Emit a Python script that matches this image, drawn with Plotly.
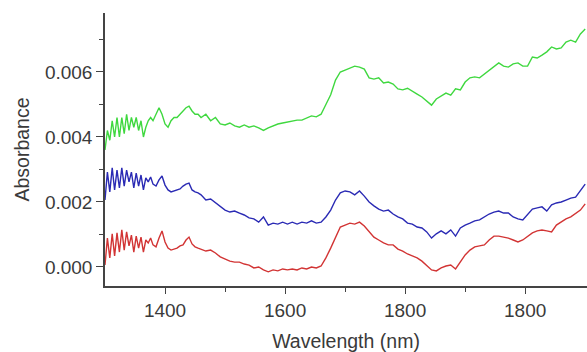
import plotly.graph_objects as go
import numpy as np

# Wavelength (nm)
wavelength = [
    1300, 1304, 1308, 1312, 1316, 1320, 1324, 1328, 1332, 1336, 1340, 1344, 1348, 1352, 1356,
    1360, 1364, 1368, 1372, 1376, 1380, 1385, 1390, 1395, 1400, 1405, 1410, 1415, 1420, 1425,
    1430, 1435, 1440, 1445, 1450, 1455, 1460, 1468, 1476, 1484, 1492, 1500, 1508, 1516, 1524,
    1532, 1540, 1548, 1556, 1564, 1572, 1580, 1588, 1596, 1604, 1612, 1620, 1628, 1636, 1644,
    1652, 1660, 1668, 1676, 1684, 1692, 1700, 1708, 1716, 1724, 1732, 1740, 1748, 1756, 1764,
    1772, 1780, 1788, 1796, 1804, 1812, 1820, 1828, 1836, 1844, 1852, 1860, 1868, 1876, 1884,
    1892, 1900, 1908, 1916, 1924, 1932, 1940, 1948, 1956, 1964, 1972, 1980, 1988, 1996, 2004,
    2012, 2020, 2028, 2036, 2044, 2052, 2060, 2068, 2076, 2084, 2092, 2100,
]

# Absorbance values in milli-absorbance units (x 1e-3)
green_mabs = [
    3.6, 4.2, 3.9, 4.5, 4.0, 4.6, 4.0, 4.6, 4.1, 4.7, 4.2, 4.6, 4.3, 4.6, 4.2,
    4.5, 4.0, 4.3, 4.5, 4.6, 4.5, 4.7, 4.9, 4.7, 4.4, 4.3, 4.5, 4.6, 4.6, 4.7,
    4.8, 4.9, 4.95, 4.8, 4.7, 4.7, 4.6, 4.7, 4.5, 4.6, 4.4, 4.37, 4.43, 4.34, 4.3,
    4.37, 4.3, 4.34, 4.28, 4.2, 4.28, 4.34, 4.4, 4.43, 4.46, 4.49, 4.52, 4.52, 4.58, 4.65,
    4.62, 4.7, 5.0, 5.3, 5.75, 6.0, 6.06, 6.12, 6.18, 6.15, 6.09, 5.82, 5.78, 5.82, 5.66,
    5.69, 5.63, 5.48, 5.45, 5.5, 5.42, 5.32, 5.23, 5.1, 4.98, 5.17, 5.26, 5.35, 5.29, 5.48,
    5.45, 5.69, 5.82, 5.85, 5.82, 5.94, 6.06, 6.18, 6.28, 6.18, 6.15, 6.25, 6.28, 6.18, 6.18,
    6.46, 6.43, 6.52, 6.62, 6.77, 6.71, 6.74, 6.92, 6.98, 6.92, 7.17, 7.32,
]

blue_mabs = [
    2.06, 2.92, 2.31, 3.05, 2.37, 2.98, 2.43, 3.05, 2.49, 2.98, 2.62, 2.92, 2.43, 2.89, 2.49,
    2.83, 2.37, 2.74, 2.62, 2.77, 2.55, 2.49, 2.68, 2.8, 2.52, 2.37, 2.31, 2.34, 2.37, 2.4,
    2.49, 2.55, 2.58, 2.37, 2.31, 2.28, 2.22, 2.06, 2.09, 1.97, 1.85, 1.75, 1.69, 1.72, 1.66,
    1.6, 1.51, 1.48, 1.38, 1.54, 1.29, 1.35, 1.32, 1.38, 1.32, 1.38, 1.32, 1.38, 1.35, 1.42,
    1.35, 1.38, 1.54, 1.75, 2.06, 2.28, 2.34, 2.31, 2.22, 2.34, 2.18, 2.0, 1.88, 1.78, 1.72,
    1.75, 1.63, 1.54, 1.48, 1.35, 1.32, 1.23, 1.2, 1.08, 0.89, 1.02, 1.11, 1.02, 1.14, 0.95,
    1.2, 1.29, 1.35, 1.42, 1.45, 1.54, 1.63, 1.69, 1.72, 1.66, 1.66, 1.54, 1.48, 1.45, 1.63,
    1.78, 1.82, 1.85, 1.72, 1.91, 1.97, 2.0, 2.06, 2.12, 2.15, 2.37, 2.55,
]

red_mabs = [
    0.06, 0.89, 0.28, 1.02, 0.34, 1.05, 0.46, 1.14, 0.52, 1.08, 0.65, 0.98, 0.46, 0.95, 0.58,
    0.92, 0.46, 0.83, 0.74, 0.89, 0.68, 0.62, 0.89, 1.11, 0.77, 0.58, 0.52, 0.55, 0.58, 0.65,
    0.68, 0.83, 0.92, 0.71, 0.62, 0.58, 0.55, 0.49, 0.52, 0.43, 0.31, 0.25, 0.18, 0.15, 0.15,
    0.09, 0.06, -0.03, 0.0, -0.09, -0.15, -0.09, -0.12, -0.06, -0.09, -0.06, -0.09, -0.03, -0.06, 0.0,
    -0.03, 0.03, 0.28, 0.58, 0.92, 1.23, 1.29, 1.35, 1.32, 1.38, 1.26, 1.08, 0.92, 0.83, 0.74,
    0.68, 0.68, 0.55, 0.49, 0.4, 0.34, 0.28, 0.18, 0.03, -0.09, -0.12, -0.03, 0.03, 0.06, -0.06,
    0.15, 0.37, 0.52, 0.62, 0.65, 0.68, 0.83, 0.95, 0.95, 0.92, 0.89, 0.83, 0.77, 0.83, 0.95,
    1.05, 1.11, 1.14, 1.11, 1.08, 1.29, 1.38, 1.48, 1.54, 1.66, 1.75, 1.94,
]

x_tickvals = [1400, 1600, 1800, 2000]
x_ticktext = ["1400", "1600", "1800", "1800"]
x_minor = [1500, 1700, 1900]
y_tickvals = [0.000, 0.002, 0.004, 0.006]
y_ticktext = ["0.000", "0.002", "0.004", "0.006"]
y_minor = [0.001, 0.003, 0.005, 0.007]

series = [
    ("green", green_mabs, "#3fd83f"),
    ("blue", blue_mabs, "#2a2ab4"),
    ("red", red_mabs, "#d23434"),
]

fig = go.Figure()
for name, vals, color in series:
    fig.add_trace(go.Scatter(
        x=wavelength, y=np.array(vals) * 1e-3, mode="lines", name=name,
        line=dict(color=color, width=1.4), showlegend=False,
    ))

axis_color = "#444444"
font_color = "#3a3a3a"
fig.update_layout(
    width=587, height=352,
    margin=dict(l=105, r=0, t=13, b=66),
    paper_bgcolor="white", plot_bgcolor="white",
    font=dict(family="Liberation Sans, Arial, sans-serif", color=font_color, size=19),
    xaxis=dict(
        range=[1300, 2103], showgrid=False, zeroline=False,
        showline=True, linecolor=axis_color, linewidth=1.5,
        ticks="outside", ticklen=6, tickwidth=1.2, tickcolor=axis_color,
        tickvals=x_tickvals, ticktext=x_ticktext,
        tickfont=dict(size=19, color=font_color),
        minor=dict(tickvals=x_minor, ticks="outside", ticklen=4, tickcolor=axis_color, tickwidth=1.2),
        title=dict(text="Wavelength (nm)", font=dict(size=19.5, color=font_color), standoff=16),
    ),
    yaxis=dict(
        range=[-0.000585, 0.007815], showgrid=False, zeroline=False,
        showline=True, linecolor=axis_color, linewidth=1.5,
        ticks="outside", ticklen=7, tickwidth=1.2, tickcolor=axis_color,
        tickvals=y_tickvals, ticktext=y_ticktext,
        tickfont=dict(size=19, color=font_color),
        minor=dict(tickvals=y_minor, ticks="outside", ticklen=4, tickcolor=axis_color, tickwidth=1.2),
        title=dict(text="Absorbance", font=dict(size=19.5, color=font_color), standoff=10),
    ),
)

fig.write_html("out.html")
